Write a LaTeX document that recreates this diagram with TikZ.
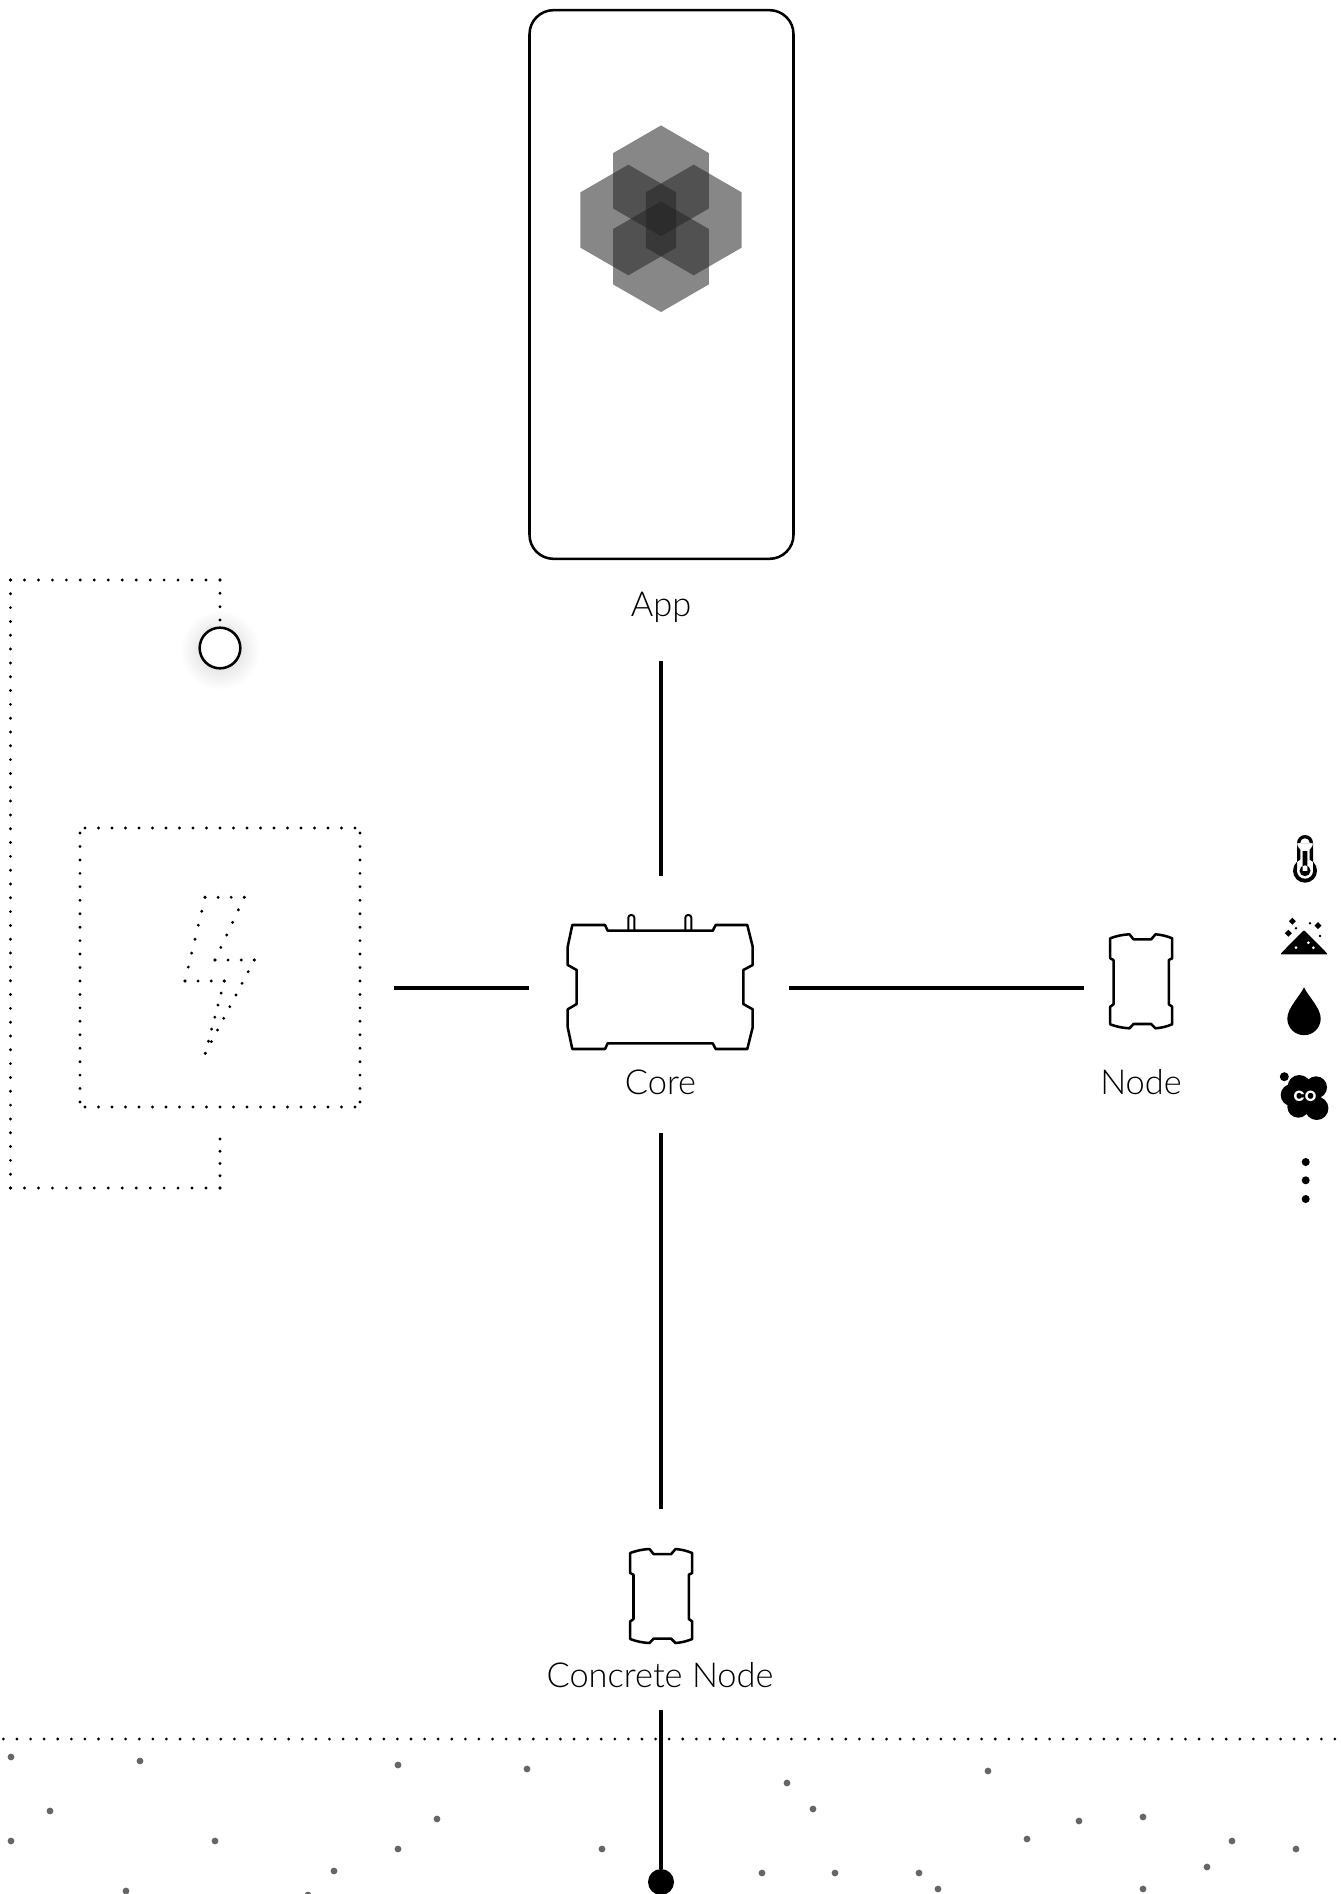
\documentclass[tikz,border=0pt]{standalone}
\usepackage{fontspec}
\usepackage{xcolor}
\usetikzlibrary{arrows.meta,positioning,calc,shapes.geometric}
\setmainfont{Lato Light}
\newfontfamily\iconfont{Poppins}
\definecolor{lineBlack}{HTML}{000000}
\definecolor{soilGrey}{HTML}{666666}
\definecolor{logoGrey}{HTML}{232323}
\newcommand{\dotrun}[3]{\foreach \k in {0,...,#3}{\fill[lineBlack] ($(#1)!\k/#3!(#2)$) circle[radius=1.6];}}
\tikzset{
  link/.style={draw=lineBlack,line width=2.4pt},
  device line/.style={draw=lineBlack,line width=1.9pt,line join=round},
  device box/.style={inner sep=0pt,outer sep=0pt},
  device label/.style={inner sep=0pt,outer sep=0pt,font=\fontsize{25.8}{30}\selectfont,
    text height=17.5pt,text depth=0pt,anchor=center},
  logo hex/.style={regular polygon,regular polygon sides=6,shape border rotate=30,
    minimum size=83pt,inner sep=0pt,fill=logoGrey,fill opacity=0.545},
  soil dot/.style={fill=soilGrey},
  device small/.pic={
    \draw[device line] (-30.8,-43) to[bend left=8] (-11.5,-47) -- (-7.5,-42) -- (10.2,-42)
      -- (14.5,-47) to[bend left=8] (31.2,-43) -- (31.2,-23) -- (27.8,-21.3) -- (27.8,23)
      -- (31.2,25.4) -- (31.2,43) to[bend left=8] (14.5,47) -- (10.2,42.7) -- (-7.5,42.7)
      -- (-11.5,47) to[bend left=8] (-30.8,43) -- (-30.8,25.4) -- (-27.5,23) -- (-27.5,-21.3)
      -- (-30.8,-23) -- cycle;
  }
}
\begin{document}
\begin{tikzpicture}[x=0.75pt,y=-0.75pt]
  \useasboundingbox (0,0) rectangle (1340,1894);
  \clip (0,0) rectangle (1340,1894);
  % app
  \node[device line,rounded corners=18pt,minimum width=198pt,minimum height=411.5pt,inner sep=0pt] (phone) at (661.5,284.5) {};
  \node[logo hex] (hexTop) at (661,180.8) {};
  \node[logo hex] (hexBottom) at (661,256.7) {};
  \node[logo hex] (hexLeft) at (628.3,220) {};
  \node[logo hex] (hexRight) at (693.7,220) {};
  \node[device label,minimum height=84pt] (appLabel) at (661,605) {App};
  % core
  \node[device box,minimum width=195pt,minimum height=168pt] (core) at (659,988) {};
  \draw[device line] (572.3,925) -- (605,925) -- (607.7,930.7) -- (712.7,930.7) -- (715.7,925)
    -- (747.3,925) -- (752.7,946.7) -- (752.7,965) -- (743.3,970) -- (743.3,1004)
    -- (752.7,1009.3) -- (752.7,1027.3) -- (747.3,1049) -- (715.7,1049) -- (712.7,1043.3)
    -- (607.7,1043.3) -- (605,1049) -- (572.3,1049) -- (567.7,1027.3) -- (567.7,1009.3)
    -- (576.7,1004) -- (576.7,970) -- (567.7,965) -- (567.7,946.7) -- cycle;
  \draw[device line,line width=1.5pt,rounded corners=2pt] (628.3,930.7) -- (628.3,915) -- (634.3,915) -- (634.3,930.7);
  \draw[device line,line width=1.5pt,rounded corners=2pt] (685.3,930.7) -- (685.3,915) -- (691.3,915) -- (691.3,930.7);
  \node[device label,minimum height=75.5pt] (coreLabel) at (660.5,1082.5) {Core};
  % node
  \node[device box,minimum width=86pt,minimum height=100pt] (sensor) at (1141.5,988) {};
  \pic at (1141,981.3) {device small};
  \node[device label] (sensorLabel) at (1141,1082.5) {Node};
  % concrete node
  \node[device box,minimum width=60pt,minimum height=110pt] (concrete) at (661.5,1582) {};
  \pic at (661,1596) {device small};
  \node[device label,minimum height=51pt] (concreteLabel) at (660,1675.5) {Concrete Node};
  \node[circle,fill=black,inner sep=0pt,minimum size=19.5pt] (probe) at (661,1882) {};
  % battery
  \node[device box,minimum width=261pt,minimum height=150pt] (battery) at (220,988) {};
  \dotrun{85,828}{355,828}{20}
  \dotrun{85,1107}{355,1107}{20}
  \dotrun{80,833}{80,1102}{20}
  \dotrun{360,833}{360,1102}{20}
  \coordinate (boltA) at (205,897.3);
  \coordinate (boltB) at (244.3,897.3);
  \coordinate (boltC) at (215,960);
  \coordinate (boltD) at (254.3,960);
  \coordinate (boltE) at (205.3,1053.3);
  \coordinate (boltF) at (224.3,981);
  \coordinate (boltG) at (185,981);
  \foreach \a/\b/\n in {boltA/boltB/3,boltB/boltC/5,boltC/boltD/3,boltD/boltE/8,boltE/boltF/6,boltF/boltG/3,boltG/boltA/6}
    {\dotrun{\a}{\b}{\n}}
  % switch loop
  \shade[inner color=black!17,outer color=white] (220,650) circle[radius=40];
  \node[circle,device line,fill=white,inner sep=0pt,minimum size=30.5pt] (switch) at (220,648) {};
  \coordinate (loopEnd) at (220,1139);
  \dotrun{220,580}{220,620}{3}
  \dotrun{10.5,580}{220,580}{15}
  \dotrun{10.5,580}{10.5,1188}{44}
  \dotrun{10.5,1188}{220,1188}{15}
  \dotrun{220,1188}{loopEnd}{4}
  % connectors
  \draw[link] (appLabel.south) -- (appLabel.south |- core.north);
  \draw[link] (battery.east) -- (core.west);
  \draw[link] (core.east) -- (sensor.west);
  \draw[link] (661,0 |- coreLabel.south) -- (661,0 |- concrete.north);
  \draw[link] (probe.north |- concreteLabel.south) -- (probe.north);
  % sensors
  \fill[black] (1297,843) rectangle (1313,871) (1305,843) circle[radius=8] (1305,870.7) circle[radius=12];
  \fill[white] (1300.3,843) rectangle (1309.7,871) (1305,843) circle[radius=4.7] (1305,870.7) circle[radius=8];
  \fill[black] (1302.7,851) rectangle (1307.3,871) (1305,870.7) circle[radius=5.5];
  \fill[black,rounded corners=1pt] (1280,954.3) -- (1304,930) -- (1328,954.3) -- cycle;
  \fill[white] (1296,947.7) circle[radius=1.5] (1308.3,942.7) circle[radius=1.5] (1313.3,947.7) circle[radius=1.5];
  \fill[black] (1292.3,917.8) -- (1295.8,921.3) -- (1292.3,924.8) -- (1288.8,921.3) -- cycle
    (1288.3,929.8) -- (1291.8,933.3) -- (1288.3,936.8) -- (1284.8,933.3) -- cycle
    (1318,922.2) -- (1321.5,925.7) -- (1318,929.2) -- (1314.5,925.7) -- cycle;
  \fill[black] (1296,928.3) circle[radius=1.4] (1310,923.3) circle[radius=1.4] (1320,936) circle[radius=1.4];
  \fill[black] (1304,987.3) .. controls (1300,996) and (1287.3,1008) .. (1287.3,1018.5)
    .. controls (1287.3,1028) and (1295,1035.2) .. (1304,1035.2)
    .. controls (1313,1035.2) and (1320.7,1028) .. (1320.7,1018.5)
    .. controls (1320.7,1008) and (1308,996) .. (1304,987.3) -- cycle;
  \fill[black] (1284.3,1076.7) circle[radius=4.5] (1299.3,1086.7) circle[radius=11.7]
    (1316,1087.3) circle[radius=11] (1291.7,1095) circle[radius=11] (1316.7,1108.3) circle[radius=11.7]
    (1298.3,1106.7) circle[radius=11] (1306,1097) circle[radius=12];
  \node[text=white,inner sep=0pt,font=\iconfont\bfseries\fontsize{11}{12}\selectfont] (coLabel) at (1305,1096.5) {CO};
  \fill[black] (1305.7,1162) circle[radius=4] (1305.7,1180.3) circle[radius=4] (1305.7,1199) circle[radius=4];
  % ground
  \draw[lineBlack,line width=2.3pt,line cap=round,dash pattern=on 0pt off 10.19pt] (3.4,1739) -- (1340,1739);
  \foreach \px/\py in {11/1757,140/1761,398/1765,527/1769,50/1811,437/1819,11/1841,215/1841,398/1849,602/1849,334/1871,126/1891,308/1895,
    787/1783,813/1809,988/1771,1079/1821,1143/1817,1027/1839,1232/1841,1296/1849,1207/1867,762/1873,835/1873,919/1873,938/1889,1143/1889}
    {\fill[soil dot] (\px,\py) circle[radius=3.4];}
\end{tikzpicture}
\end{document}
